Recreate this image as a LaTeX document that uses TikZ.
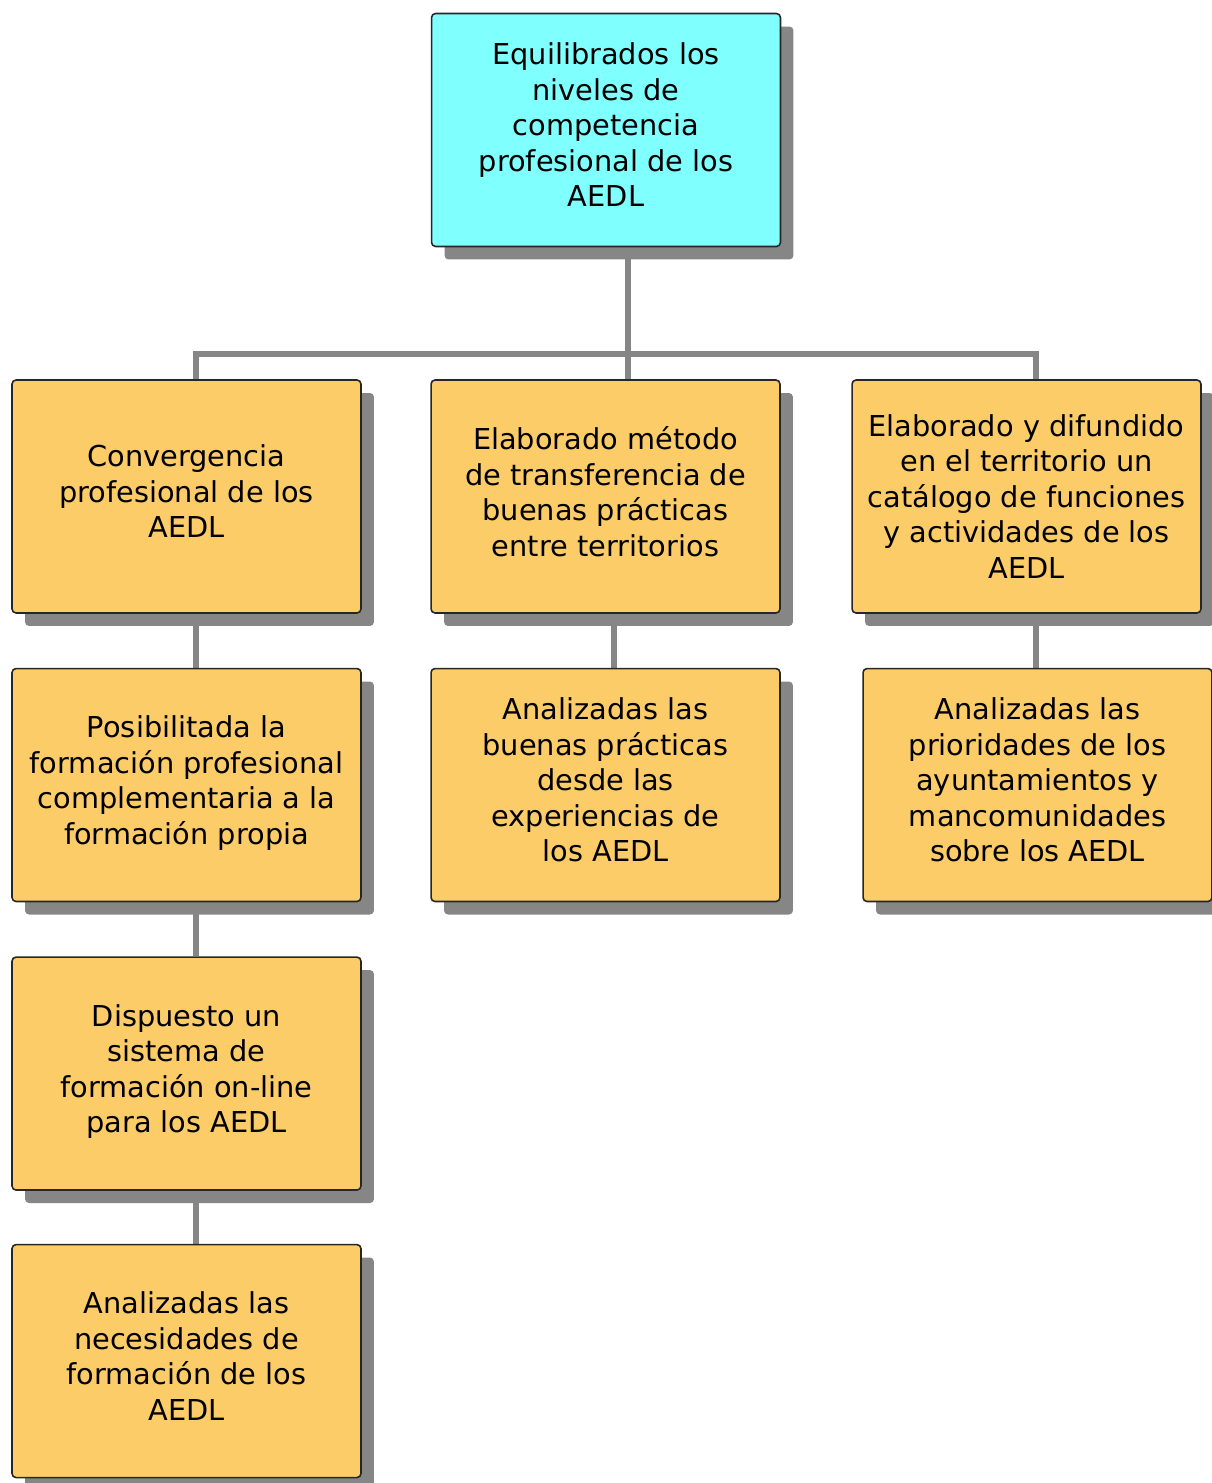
\documentclass[tikz,border=0pt]{standalone}
\usepackage{fontspec}
\setmainfont{DejaVu Sans}
\usepackage{tikz}
\usetikzlibrary{positioning}
\usetikzlibrary{shadows}
\usetikzlibrary{backgrounds}

\definecolor{goalcyan}{RGB}{128,255,255}
\definecolor{resorange}{RGB}{252,204,104}
\definecolor{linegray}{RGB}{134,134,134}

\tikzset{
  box/.style={draw=black!85, line width=0.9pt, rounded corners=0.08cm,
    minimum width=6.98cm, minimum height=4.66cm, align=center,
    text depth=0.2cm,
    font=\fontsize{16.4}{20.2}\selectfont,
    drop shadow={shadow xshift=0.26cm, shadow yshift=-0.26cm, fill=linegray, opacity=1}},
  goal/.style={box, fill=goalcyan},
  result/.style={box, fill=resorange},
  conn/.style={draw=linegray, line width=0.12cm}
}

\begin{document}
\begin{tikzpicture}[x=0.02cm, y=-0.02cm]
  \useasboundingbox (0,0) rectangle (1212,1483);

  % objective on top
  \node[goal] (obj) at (606,130) {Equilibrados los\\niveles de\\competencia\\profesional de los\\AEDL};

  % first row of results
  \node[result] (r1) at (186.5,496.5) {Convergencia\\profesional de los\\AEDL};
  \node[result] (r2) at (605.5,496.5) {Elaborado método\\de transferencia de\\buenas prácticas\\entre territorios};
  \node[result, text depth=0pt] (r3) at (1026.5,496.5) {Elaborado y difundido\\en el territorio un\\catálogo de funciones\\y actividades de los\\AEDL};

  % activities below
  \node[result, below=1.08cm of r1] (a11) {Posibilitada la\\formación profesional\\complementaria a la\\formación propia};
  \node[result, below=1.08cm of a11] (a12) {Dispuesto un\\sistema de\\formación on-line\\para los AEDL};
  \node[result, below=1.06cm of a12] (a13) {Analizadas las\\necesidades de\\formación de los\\AEDL};
  \node[result, below=1.08cm of r2] (a21) {Analizadas las\\buenas prácticas\\desde las\\experiencias de\\los AEDL};
  \node[result, below=1.08cm of r3, xshift=0.22cm] (a31) {Analizadas las\\prioridades de los\\ayuntamientos y\\mancomunidades\\sobre los AEDL};

  \coordinate (bus) at (628,354);

  % connectors behind the boxes
  \begin{scope}[on background layer]
    \draw[conn] (obj.south -| bus) -- (bus);
    \draw[conn] (r1.north -| 196,0) |- (bus) -| (r3.north -| 1036,0);
    \draw[conn] (bus) -- (r2.north -| bus);
    \draw[conn] (r1.south -| 196,0) -- (a11.north -| 196,0);
    \draw[conn] (a11.south -| 196,0) -- (a12.north -| 196,0);
    \draw[conn] (a12.south -| 196,0) -- (a13.north -| 196,0);
    \draw[conn] (r2.south -| 614,0) -- (a21.north -| 614,0);
    \draw[conn] (r3.south -| 1036,0) -- (a31.north -| 1036,0);
  \end{scope}
\end{tikzpicture}
\end{document}
